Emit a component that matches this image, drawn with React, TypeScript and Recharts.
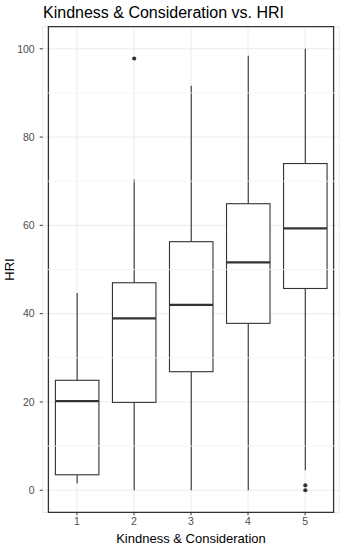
import React from 'react';
import { ComposedChart, Bar, XAxis, YAxis, CartesianGrid, ReferenceLine, ReferenceArea } from 'recharts';

const categories = ['1', '2', '3', '4', '5'];
const lowerWhisker = [1.6, 0, 0, 0, 4.5];
const q1 = [3.5, 19.9, 26.85, 37.8, 45.7];
const median = [20.2, 38.95, 42.0, 51.6, 59.3];
const q3 = [24.9, 47.0, 56.3, 64.9, 74.0];
const upperWhisker = [44.7, 70.4, 91.6, 98.4, 100];
const outliers: number[][] = [[], [97.8], [], [], [1.1, 0]];

const yTicks = [0, 20, 40, 60, 80, 100];
const minorBreaks = [10, 30, 50, 70, 90];

const data = categories.map((c, i) => ({
  cat: c,
  range: [lowerWhisker[i], upperWhisker[i]],
  lo: lowerWhisker[i],
  q1: q1[i],
  med: median[i],
  q3: q3[i],
  hi: upperWhisker[i],
  out: outliers[i],
}));

const FONT = '"Liberation Sans", Arial, sans-serif';
const STROKE = '#333333';

const BoxShape = (props: any) => {
  const { x, y, width, height, payload } = props;
  const { lo, hi } = payload;
  const ppu = height / (hi - lo);
  const yOf = (v: number) => y + (hi - v) * ppu;
  const cx = x + width / 2;
  return (
    <g>
      <line x1={cx} x2={cx} y1={yOf(hi)} y2={yOf(payload.q3)} stroke={STROKE} strokeWidth={1.1} />
      <line x1={cx} x2={cx} y1={yOf(payload.q1)} y2={yOf(lo)} stroke={STROKE} strokeWidth={1.1} />
      <rect
        x={x}
        y={yOf(payload.q3)}
        width={width}
        height={yOf(payload.q1) - yOf(payload.q3)}
        fill="#FFFFFF"
        stroke={STROKE}
        strokeWidth={1.1}
      />
      <line x1={x} x2={x + width} y1={yOf(payload.med)} y2={yOf(payload.med)} stroke={STROKE} strokeWidth={2.2} />
      {payload.out.map((v: number, k: number) => (
        <circle key={k} cx={cx} cy={yOf(v)} r={2.1} fill={STROKE} />
      ))}
    </g>
  );
};

const YLabel = (props: any) => {
  const vb = props.viewBox || {};
  const x = (vb.x || 0) + 13.5;
  const y = (vb.y || 0) + (vb.height || 0) / 2;
  return (
    <text
      x={x}
      y={y}
      transform={`rotate(-90, ${x}, ${y})`}
      textAnchor="middle"
      fontSize={13}
      fill="#000000"
      fontFamily={FONT}
    >
      HRI
    </text>
  );
};

const W = 346;
const H = 550;
const panelW = 296.6;
const pad = (panelW / 5.2) * 0.1;

export default function App() {
  return (
    <div style={{ position: 'absolute', left: 0, top: 0, width: W, height: H, background: '#fff', fontFamily: FONT }}>
      <div
        style={{
          position: 'absolute',
          left: 43,
          top: 4.5,
          fontSize: 16,
          lineHeight: '16px',
          color: '#000',
          fontFamily: FONT,
          whiteSpace: 'nowrap',
        }}
      >
        Kindness &amp; Consideration vs. HRI
      </div>
      <ComposedChart
        width={W}
        height={H}
        data={data}
        margin={{ top: 26.7, right: 6.7, bottom: 0, left: 0 }}
        style={{ fontFamily: FONT }}
      >
        <CartesianGrid stroke="#EBEBEB" strokeWidth={1} vertical={true} horizontal={true} />
        {minorBreaks.map((m) => (
          <ReferenceLine key={m} y={m} stroke="#F4F4F4" strokeWidth={0.8} />
        ))}
        <XAxis
          dataKey="cat"
          type="category"
          height={37.7}
          padding={{ left: pad, right: pad }}
          tickSize={3}
          tickMargin={2}
          axisLine={false}
          tickLine={{ stroke: STROKE }}
          tick={{ fill: '#4D4D4D', fontSize: 10.5, fontFamily: FONT }}
          label={{
            value: 'Kindness & Consideration',
            position: 'insideBottom',
            offset: 7,
            fill: '#000000',
            fontSize: 13,
            fontFamily: FONT,
          }}
        />
        <YAxis
          type="number"
          domain={[-5, 105]}
          ticks={yTicks}
          width={42.7}
          tickSize={3}
          tickMargin={5}
          axisLine={false}
          tickLine={{ stroke: STROKE }}
          tick={{ fill: '#4D4D4D', fontSize: 10.5, fontFamily: FONT }}
          interval={0}
          allowDataOverflow={true}
          label={<YLabel />}
        />
        <Bar dataKey="range" barSize={43.5} shape={<BoxShape />} isAnimationActive={false} />
        <ReferenceArea y1={-5} y2={105} fill="none" stroke={STROKE} strokeWidth={1.3} ifOverflow="visible" />
      </ComposedChart>
    </div>
  );
}
